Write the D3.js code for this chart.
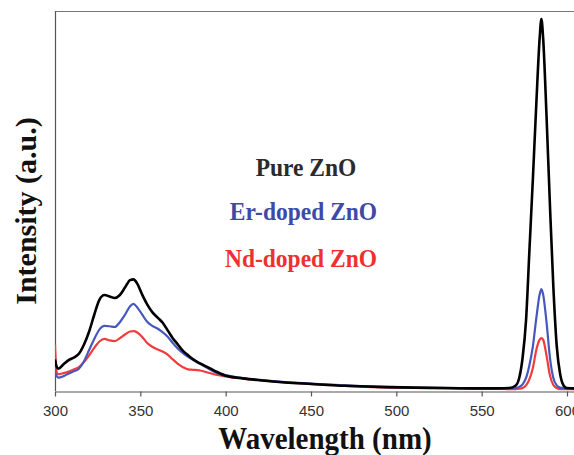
<!DOCTYPE html>
<html>
<head>
<meta charset="utf-8">
<script src="https://cdn.jsdelivr.net/npm/d3@7/dist/d3.min.js"></script>
<style>
  html, body { margin: 0; padding: 0; background: #fff; }
  svg { display: block; }
</style>
</head>
<body>
<svg id="chart" width="574" height="455"></svg>
<script>
// ---- data ----
const wavelength = [300,301,302,305,308,311,314,317,320,323,326,329,332,335,338,341,344,346,348,351,354,357,360,363,366,369,372,375,378,381,385,390,395,400,410,420,435,450,470,490,510,530,550,560,566,570,572,574,576,578,580,582,584,585,586,588,590,592,594,596,598,600,605];

const pureZnO = [8.5,6.5,6.0,7.2,8.3,9.0,10.0,12.5,16.0,20.5,24.5,25.8,25.4,25.0,25.8,27.8,29.8,30.0,29.0,26.0,23.3,21.2,19.8,18.4,16.3,14.2,12.5,10.8,9.6,8.5,7.4,6.3,5.1,4.1,3.4,2.9,2.3,1.9,1.4,1.1,0.9,0.8,0.7,0.7,0.8,1.5,3.5,9,19,38,57,77,95,100,95,74,50,28,12,4.5,1.5,0.8,0.7];

const erDoped = [5.0,4.0,3.6,4.0,4.7,5.3,6.0,8.0,11.0,14.0,16.5,17.5,17.4,17.2,18.5,20.5,22.8,23.4,22.6,20.6,18.6,17.5,16.8,15.8,14.6,12.9,11.4,10.2,9.2,8.3,7.3,6.0,4.8,4.3,3.5,3.0,2.4,2.0,1.5,1.1,0.9,0.8,0.7,0.7,0.7,0.8,1.1,1.8,3.5,7,12,19.5,26,27.4,26,18.5,9,3.5,1.5,0.9,0.8,0.7,0.7];

const ndDoped = [12.5,5.0,4.5,4.8,5.2,5.8,6.4,7.8,9.6,11.6,13.3,14.0,13.6,13.4,14.2,15.2,16.0,16.1,15.8,14.6,12.9,11.9,11.2,10.6,9.8,8.5,7.3,6.4,5.8,5.7,5.5,4.9,4.3,3.9,3.3,2.9,2.3,1.9,1.4,1.0,0.8,0.7,0.6,0.6,0.5,0.5,0.6,0.8,1.5,3.2,6.2,11,13.8,14.2,13.8,9.5,4.2,1.6,0.8,0.5,0.5,0.5,0.5];

const xTicks = [300,350,400,450,500,550,600];
const seriesNames = ["Pure ZnO","Er-doped ZnO","Nd-doped ZnO"];
const lineColors = ["#000000","#4658bd","#f23b3b"];
const textColors = ["#2b2b2b","#3d4aa6","#ef3030"];

// ---- layout ----
(function () {
const svg = d3.select("#chart");
const plotLeft = 55, plotBottom = 391, plotTop = 11;
const x = d3.scaleLinear().domain([300, 605]).range([plotLeft, plotLeft + 305 * 512 / 300]);
const y = d3.scaleLinear().domain([0, 100]).range([plotBottom, 19]);

// top border
svg.append("line")
  .attr("x1", plotLeft).attr("x2", 574).attr("y1", plotTop + 0.5).attr("y2", plotTop + 0.5)
  .attr("stroke", "#777").attr("stroke-width", 1.2);
// left axis line
svg.append("line")
  .attr("x1", plotLeft + 0.5).attr("x2", plotLeft + 0.5).attr("y1", plotTop).attr("y2", plotBottom)
  .attr("stroke", "#555").attr("stroke-width", 1.2);

// x axis
const xAxis = d3.axisBottom(x).tickValues(xTicks).tickSize(5).tickSizeOuter(0).tickPadding(9);
const gx = svg.append("g").attr("transform", `translate(0,${plotBottom + 0.5})`).call(xAxis);
gx.select(".domain").attr("stroke", "#555").attr("stroke-width", 1.2);
gx.selectAll(".tick line").attr("stroke", "#555").attr("stroke-width", 1.2);
gx.selectAll(".tick text")
  .attr("fill", "#333")
  .style("font-family", "'Liberation Sans', Arial, sans-serif")
  .style("font-size", "15px");

// lines
svg.append("clipPath").attr("id", "clip")
  .append("rect").attr("x", plotLeft).attr("y", 0).attr("width", 574 - plotLeft).attr("height", plotBottom);

const series = [pureZnO, erDoped, ndDoped];
const line = d3.line().x((d, i) => x(wavelength[i])).y(d => y(d)).curve(d3.curveMonotoneX);
[2, 1, 0].forEach(k => {
  svg.append("path")
    .attr("clip-path", "url(#clip)")
    .attr("d", line(series[k]))
    .attr("fill", "none")
    .attr("stroke", lineColors[k])
    .attr("stroke-width", k === 0 ? 2.6 : 2.2)
    .attr("stroke-linejoin", "round");
});

// legend texts
const legendX = [306, 303.5, 301];
const legendY = [176, 220, 267];
seriesNames.forEach((n, k) => {
  svg.append("text")
    .attr("transform", `translate(${legendX[k]},${legendY[k]}) scale(1,1.06)`)
    .attr("text-anchor", "middle")
    .attr("fill", textColors[k])
    .style("font-family", "'Liberation Serif', 'Times New Roman', serif")
    .style("font-weight", "bold")
    .style("font-size", "23.5px")
    .text(n);
});

// axis titles
svg.append("text")
  .attr("transform", "translate(325,449) scale(1,1.06)")
  .attr("text-anchor", "middle")
  .attr("fill", "#111")
  .style("font-family", "'Liberation Serif', 'Times New Roman', serif")
  .style("font-weight", "bold")
  .style("font-size", "29px")
  .text("Wavelength (nm)");

svg.append("text")
  .attr("transform", "translate(36,211) rotate(-90)")
  .attr("text-anchor", "middle")
  .attr("fill", "#111")
  .style("font-family", "'Liberation Serif', 'Times New Roman', serif")
  .style("font-weight", "bold")
  .style("font-size", "30px")
  .text("Intensity (a.u.)");
})();
</script>
</body>
</html>
